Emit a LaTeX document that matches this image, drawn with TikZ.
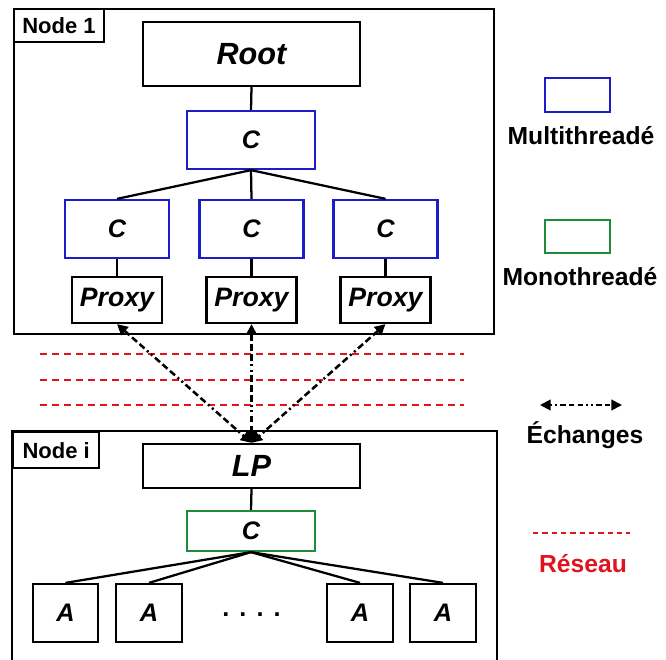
\documentclass[tikz,border=0pt]{standalone}
\usepackage{fontspec}
\setmainfont{Liberation Sans}
\usetikzlibrary{arrows.meta,positioning,calc}
\definecolor{multi}{HTML}{1C1CC8}
\definecolor{mono}{HTML}{1E8C3C}
\definecolor{reseau}{HTML}{E0141E}
\newcommand{\fs}[1]{\fontsize{#1}{#1}\selectfont}
\begin{document}
\begin{tikzpicture}[x=0.75pt,y=-0.75pt,
  box/.style={draw,line width=1.7pt,inner sep=0pt,font=\fs{19}\bfseries\itshape},
  tag/.style={draw,line width=1.7pt,inner sep=0pt,anchor=north west,font=\fs{16.5}\bfseries},
  link/.style={line width=1.7pt},
  xchg/.style={{Triangle[length=8pt,width=8pt]}-{Triangle[length=8pt,width=8pt]},line width=1.9pt,
    dash pattern=on 5pt off 2.5pt on 5pt off 2.5pt on 5pt off 2.5pt on 1.5pt off 2.5pt on 1.5pt off 2.5pt},
  net/.style={reseau,line width=1.7pt,dash pattern=on 5pt off 4pt},
  legend/.style={font=\fs{18.5}\bfseries}]
\useasboundingbox (0,0) rectangle (666,659);
% Node 1
\node[draw,line width=1.7pt,minimum width=360pt,minimum height=243.75pt,inner sep=0pt] (node1) at (254,171.5) {};
\node[tag,minimum width=67.5pt,minimum height=25pt] (tag1) at (node1.north west) {Node 1};
\node[box,minimum width=163pt,minimum height=48pt,font=\fs{23}\bfseries\itshape] (root) at (251.5,54) {Root};
\node[box,draw=multi,minimum width=96pt,minimum height=43.5pt] (ctop) at (251,140) {C};
\foreach \x/\id in {117/1,251.5/2,385.5/3}{
  \node[box,draw=multi,minimum width=78pt,minimum height=43.5pt] (c\id) at (\x,229) {C};
  \node[box,minimum width=67.5pt,minimum height=34.5pt,font=\fs{20}\bfseries\itshape] (p\id) at (\x,300) {Proxy};
  \draw[link] (ctop.south)--(c\id.north);
  \draw[link] (c\id.south)--(p\id.north);
}
\draw[link] (root.south)--(ctop.north);
% network
\foreach \y/\id in {354/1,380/2,405/3}{
  \coordinate (wa\id) at (40,\y);
  \coordinate (wb\id) at (464,\y);
  \draw[net] (wa\id)--(wb\id);
}
% Node i
\draw[line width=1.7pt] (12,665)--(12,431)--(497,431)--(497,665);
\node[tag,minimum width=64.5pt,minimum height=27pt] (tagi) at (12,431) {Node i};
\node[box,minimum width=163pt,minimum height=33pt,font=\fs{23}\bfseries\itshape] (lp) at (251.5,466) {LP};
\node[box,draw=mono,minimum width=96pt,minimum height=30pt] (cmono) at (251,531) {C};
\draw[link] (lp.south)--(cmono.north);
\foreach \x/\id in {65.5/1,149/2,360/3,443/4}{
  \node[box,minimum width=49pt,minimum height=43.5pt] (a\id) at (\x,613) {A};
  \draw[link] (cmono.south)--(a\id.north);
}
\node[font=\fs{19}\bfseries] (dots) at (251.5,615) {.\hspace{7.5pt}.\hspace{7.5pt}.\hspace{7.5pt}.};
% exchanges
\foreach \id in {1,2,3}{\draw[xchg] (p\id.south)--(lp.north);}
% legend
\node[draw=multi,line width=1.6pt,minimum width=49pt,minimum height=25pt] (lmulti) at (577.5,95) {};
\node[legend] (tmulti) at (581,136) {Multithreadé};
\node[draw=mono,line width=1.6pt,minimum width=49pt,minimum height=25pt] (lmono) at (577.5,236.5) {};
\node[legend] (tmono) at (580,277) {Monothreadé};
\coordinate (ea) at (540,405);
\coordinate (eb) at (622,405);
\draw[xchg,line width=1.5pt,dash pattern=on 1.3pt off 2.5pt on 1.3pt off 2.5pt on 4pt off 2.5pt on 4pt off 2.5pt on 4pt off 2.5pt] (ea)--(eb);
\node[legend] (techanges) at (585,435) {Échanges};
\coordinate (ra) at (533,533);
\coordinate (rb) at (630,533);
\draw[reseau,line width=1.4pt,dash pattern=on 4pt off 3pt] (ra)--(rb);
\node[legend,text=reseau] (treseau) at (583,564) {Réseau};
\end{tikzpicture}
\end{document}
